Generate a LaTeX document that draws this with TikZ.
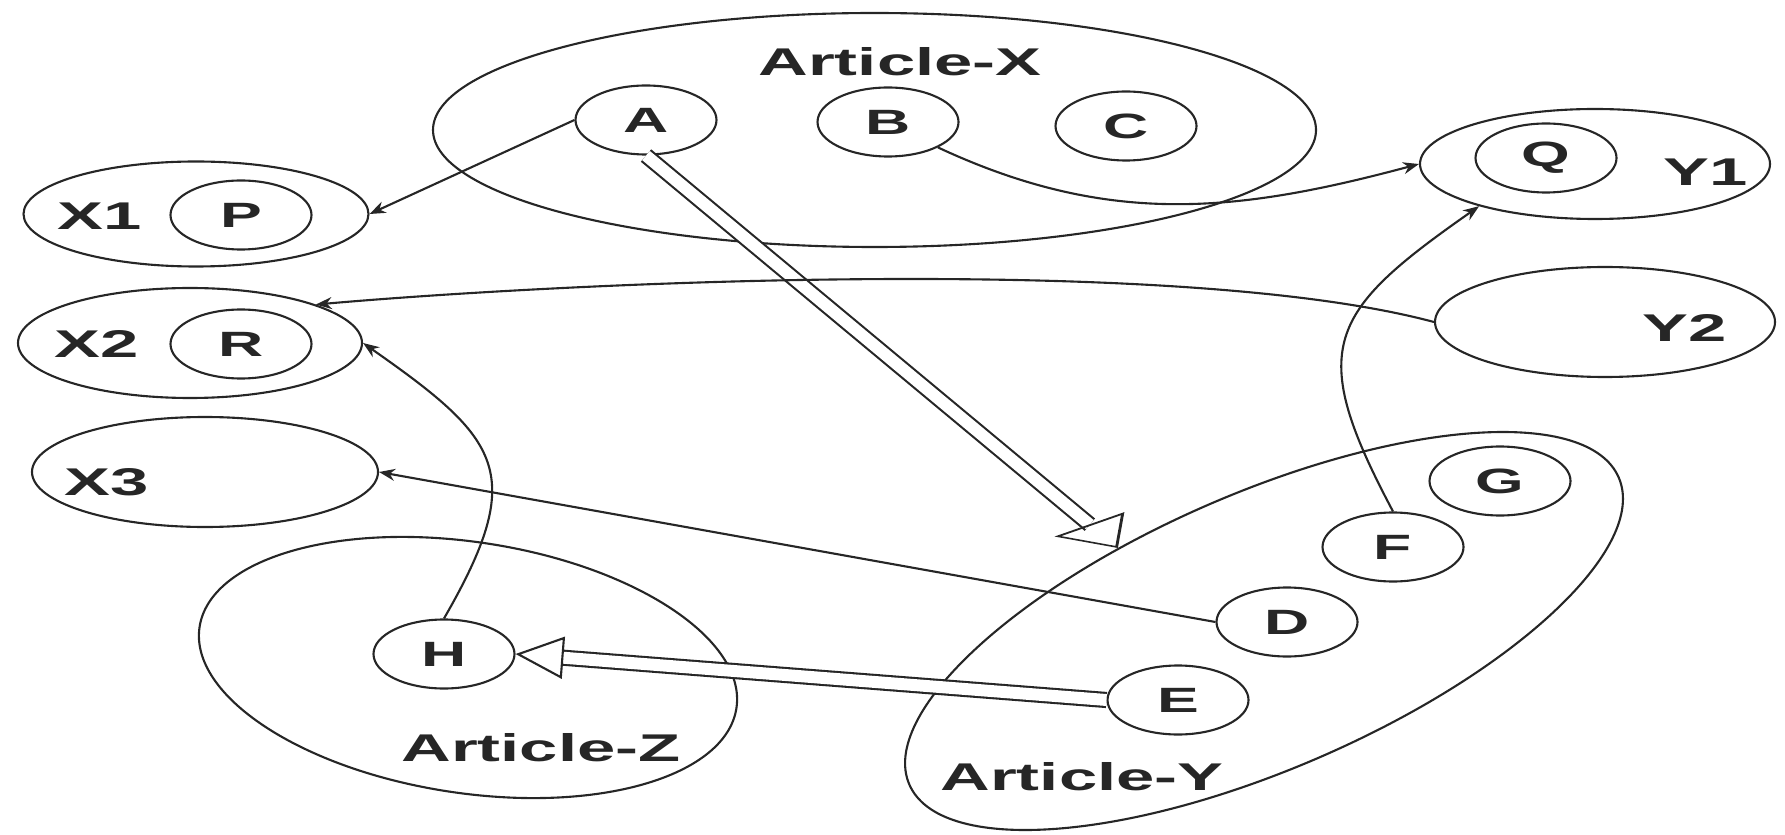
\documentclass[tikz,border=0pt]{standalone}
\usepackage{fontspec}
\newfontfamily\widesf{Liberation Sans}[FakeStretch=1.78]
\usetikzlibrary{arrows.meta,shapes.geometric}

\tikzset{
  item/.style={draw,ellipse,minimum width=1.41cm,minimum height=0.69cm,inner sep=0pt,font=\widesf\bfseries\fontsize{10}{12}\selectfont},
  group/.style={draw,ellipse,inner sep=0pt},
  lbl/.style={font=\widesf\bfseries\fontsize{11}{13}\selectfont},
  link/.style={-{Stealth[length=1.6mm,width=1.2mm]}},
  fat/.style 2 args={double,double distance=3.4pt,-{Triangle[open,length=#1,width=#2]}}
}

\begin{document}
\begin{tikzpicture}[line width=0.6pt,color=black!85]
	\useasboundingbox (0,0) rectangle (17.85,8.34);
	% articles
	\node[group,minimum width=8.83cm,minimum height=2.34cm] at (8.745,7.04) (ArtX) {};
	\node[lbl] at (9.00,7.72) (ArtXlbl) {Article-X};
	\node[group,minimum width=5.43cm,minimum height=2.51cm,rotate=-8.6] at (4.68,1.665) (ArtZ) {};
	\node[lbl] at (5.41,0.86) (ArtZlbl) {Article-Z};
	\node[group,minimum width=7.73cm,minimum height=2.76cm,rotate=23.4] at (12.64,2.03) (ArtY) {};
	\node[lbl] at (10.82,0.57) (ArtYlbl) {Article-Y};
	\node[item] at (6.46,7.14) (A) {A};
	\node[item] at (8.88,7.12) (B) {B};
	\node[item] at (11.26,7.08) (C) {C};
	\node[item] at (4.44,1.80) (H) {H};
	\node[item] at (15.00,3.53) (G) {G};
	\node[item] at (13.93,2.87) (F) {F};
	\node[item] at (12.87,2.12) (D) {D};
	\node[item] at (11.78,1.34) (E) {E};
	% targets
	\node[group,minimum width=3.45cm,minimum height=1.05cm] at (1.96,6.20) (X1) {};
	\node[lbl] at (1.00,6.18) (X1lbl) {X1};
	\node[item] at (2.41,6.19) (P) {P};
	\node[group,minimum width=3.44cm,minimum height=1.10cm] at (1.90,4.91) (X2) {};
	\node[lbl] at (0.97,4.90) (X2lbl) {X2};
	\node[item] at (2.41,4.90) (R) {R};
	\node[group,minimum width=3.46cm,minimum height=1.10cm] at (2.05,3.62) (X3) {};
	\node[lbl] at (1.07,3.52) (X3lbl) {X3};
	\node[group,minimum width=3.50cm,minimum height=1.10cm] at (15.95,6.70) (Y1) {};
	\node[lbl] at (17.06,6.62) (Y1lbl) {Y1};
	\node[item] at (15.46,6.76) (Q) {Q};
	\node[group,minimum width=3.40cm,minimum height=1.10cm] at (16.05,5.12) (Y2) {};
	\node[lbl] at (16.85,5.06) (Y2lbl) {Y2};
	% links
	\draw[link] (A.west) -- (X1.east);
	\draw[double,double distance=3.4pt,-{Triangle[open,length=3.7mm,width=6.3mm,slant=0.6]}] (A.south) -- (ArtY.127);
	\draw[link] (B.-27) to[out=-25,in=195] (Y1.west);
	\draw[link] (F.north) to[out=118,in=-145,looseness=1.5] (Y1.200);
	\draw[link] (Y2.west) to[out=165,in=5,looseness=0.6] (X2.17);
	\draw[link] (H.north) to[out=60,in=-35,looseness=1.5] (X2.east);
	\draw[link] (D.west) -- (X3.east);
	\draw[fat={4.8mm}{4.2mm}] (E.west) -- (H.east);
\end{tikzpicture}
\end{document}
